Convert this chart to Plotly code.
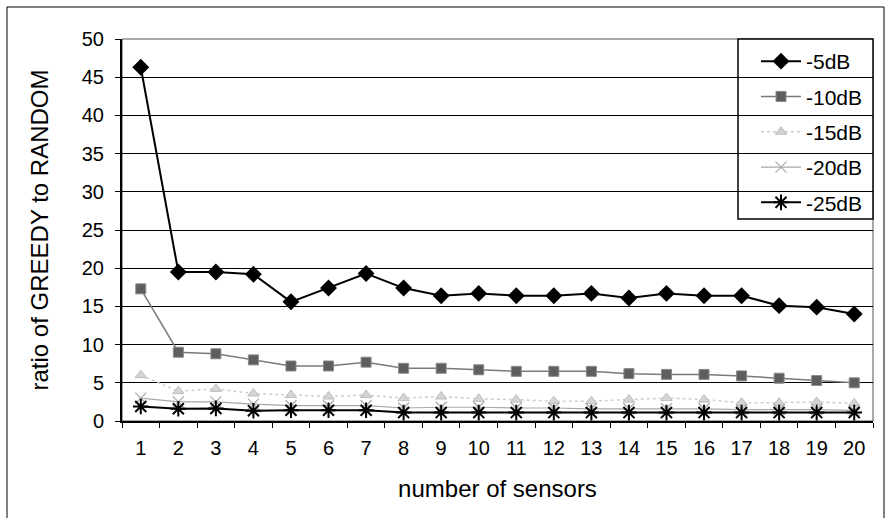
import plotly.graph_objects as go

# number of sensors (category axis)
sensors = [str(i) for i in range(1, 21)]

# ratio of GREEDY to RANDOM for each noise level
ratio_5db = [46.3, 19.5, 19.5, 19.2, 15.6, 17.4, 19.3, 17.4, 16.4, 16.7,
             16.4, 16.4, 16.7, 16.1, 16.7, 16.4, 16.4, 15.1, 14.9, 14.0]
ratio_10db = [17.3, 9.0, 8.8, 8.0, 7.2, 7.2, 7.7, 6.9, 6.9, 6.7,
              6.5, 6.5, 6.5, 6.2, 6.1, 6.1, 5.9, 5.6, 5.3, 5.0]
ratio_15db = [6.0, 3.9, 4.2, 3.6, 3.4, 3.2, 3.4, 3.0, 3.2, 2.9,
              2.8, 2.6, 2.6, 2.8, 3.0, 2.8, 2.4, 2.4, 2.5, 2.3]
ratio_20db = [3.0, 2.5, 2.5, 2.2, 2.0, 2.0, 2.0, 1.7, 1.8, 1.8,
              1.7, 1.7, 1.6, 1.6, 1.6, 1.6, 1.5, 1.5, 1.5, 1.4]
ratio_25db = [1.9, 1.6, 1.65, 1.35, 1.4, 1.4, 1.4, 1.1, 1.1, 1.1,
              1.1, 1.1, 1.1, 1.1, 1.1, 1.1, 1.1, 1.1, 1.1, 1.1]

series_names = ["-5dB", "-10dB", "-15dB", "-20dB", "-25dB"]
y_ticks = [0, 5, 10, 15, 20, 25, 30, 35, 40, 45, 50]

FONT = "Liberation Sans, Arial, sans-serif"

styles = [
    dict(line=dict(color="black", width=2),
         marker=dict(symbol="diamond", size=13, color="black")),
    dict(line=dict(color="#7a7a7a", width=1.5),
         marker=dict(symbol="square", size=10, color="#5e5e5e",
                     line=dict(color="#8a8a8a", width=1))),
    dict(line=dict(color="#cfcfcf", width=1.5, dash="dot"),
         marker=dict(symbol="triangle-up", size=10, color="#d4d4d4",
                     line=dict(color="#bdbdbd", width=1))),
    dict(line=dict(color="#a8a8a8", width=1.2),
         marker=dict(symbol="x-thin-open", size=11,
                     line=dict(color="#a0a0a0", width=1.2))),
    dict(line=dict(color="black", width=2),
         marker=dict(symbol="asterisk-open", size=13,
                     line=dict(color="black", width=2))),
]

fig = go.Figure()
for i, (name, vals) in enumerate(zip(series_names,
                                     [ratio_5db, ratio_10db, ratio_15db,
                                      ratio_20db, ratio_25db])):
    fig.add_trace(go.Scatter(
        x=sensors, y=vals, name=name, mode="lines+markers",
        legendgroup=f"g{i}", **styles[i]))

PW, PH = 751, 382  # plotting area size in pixels

# thin border around the plotting area
fig.add_shape(type="rect", xref="paper", yref="paper", x0=0, y0=0, x1=1, y1=1,
              line=dict(color="#555555", width=1), layer="below")
# legend frame
fig.add_shape(type="rect", xref="paper", yref="paper",
              x0=616 / PW, y0=1 - 180 / PH, x1=1, y1=1,
              line=dict(color="black", width=1.5), fillcolor="white",
              layer="below")
# outer frame of the chart
fig.add_shape(type="rect", xref="paper", yref="paper",
              x0=-115 / PW, y0=-110 / PH, x1=1 + 11 / PW, y1=1 + 32 / PH,
              line=dict(color="black", width=1))

fig.update_layout(
    width=891, height=518,
    margin=dict(l=122, r=18, t=39, b=97),
    paper_bgcolor="white", plot_bgcolor="white",
    font=dict(family=FONT, size=20, color="black"),
    showlegend=True,
    legend=dict(x=634 / PW, y=1 - 2 / PH, xanchor="left", yanchor="top",
                bgcolor="rgba(0,0,0,0)", borderwidth=0,
                font=dict(family=FONT, size=21),
                tracegroupgap=5, itemwidth=40),
    xaxis=dict(
        type="category", range=[-0.5, 19.5],
        title=dict(text="number of sensors", font=dict(size=24), standoff=22),
        showgrid=False, showline=True, linecolor="black", linewidth=2,
        ticks="outside", tickson="boundaries", ticklen=5, tickcolor="black",
        tickfont=dict(size=20), ticklabelstandoff=8, zeroline=False,
    ),
    yaxis=dict(
        range=[0, 50], tickvals=y_ticks,
        title=dict(text="ratio of GREEDY to RANDOM",
                   font=dict(size=24), standoff=26),
        showgrid=True, gridcolor="black", gridwidth=1,
        showline=True, linecolor="black", linewidth=2,
        ticks="outside", ticklen=5, tickcolor="black",
        tickfont=dict(size=20), ticklabelstandoff=7, zeroline=False,
    ),
)

fig.write_html("out.html")
